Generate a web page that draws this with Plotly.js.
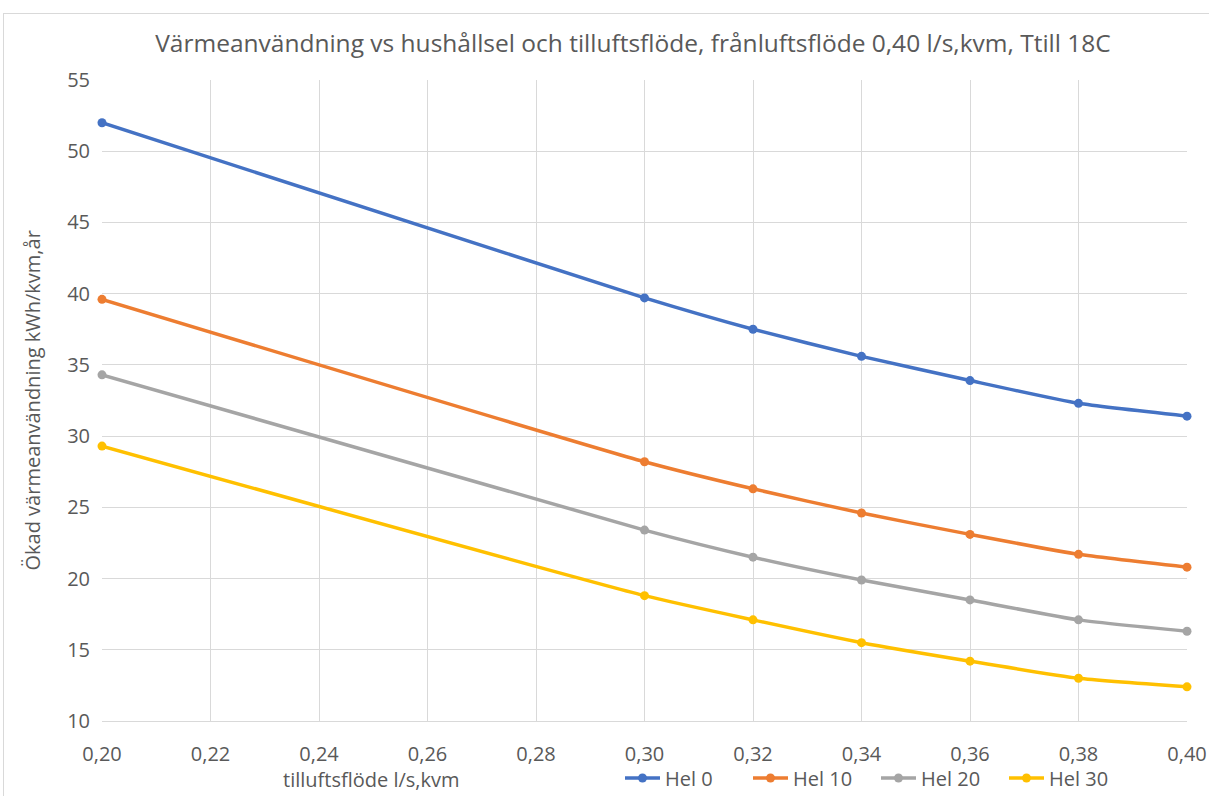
<!DOCTYPE html>
<html>
<head>
<meta charset="utf-8">
<script src="https://cdn.plot.ly/plotly-3.0.1.min.js"></script>
<style>
  html, body { margin: 0; padding: 0; background: #ffffff; overflow: hidden; }
  #frame { position: absolute; left: 3px; top: 13px; width: 1220px; height: 800px;
           border: 1px solid #d9d9d9; box-sizing: border-box; }
  #chart { position: absolute; left: 0; top: 0; width: 1209px; height: 796px; }
</style>
</head>
<body>
<div id="frame"></div>
<div id="chart"></div>
<script>
// Supply air flow (l/s per m²)
const flow = [0.20, 0.30, 0.32, 0.34, 0.36, 0.38, 0.40];

// Increased heating demand (kWh/m²·year) per household electricity level
const hel0  = [52.0, 39.7, 37.5, 35.6, 33.9, 32.3, 31.4];
const hel10 = [39.6, 28.2, 26.3, 24.6, 23.1, 21.7, 20.8];
const hel20 = [34.3, 23.4, 21.5, 19.9, 18.5, 17.1, 16.3];
const hel30 = [29.3, 18.8, 17.1, 15.5, 14.2, 13.0, 12.4];

const seriesNames = ['Hel 0', 'Hel 10', 'Hel 20', 'Hel 30'];
const seriesColors = ['#4472C4', '#ED7D31', '#A5A5A5', '#FFC000'];
const seriesValues = [hel0, hel10, hel20, hel30];

const tickVals = [0.20, 0.22, 0.24, 0.26, 0.28, 0.30, 0.32, 0.34, 0.36, 0.38, 0.40];
const tickText = ['0,20', '0,22', '0,24', '0,26', '0,28', '0,30', '0,32', '0,34', '0,36', '0,38', '0,40'];

const FONT = "'Open Sans', 'Noto Sans', sans-serif";
const TXT = '#595959';

const traces = seriesValues.map((vals, i) => ({
  x: flow,
  y: vals,
  name: seriesNames[i],
  type: 'scatter',
  mode: 'lines+markers',
  cliponaxis: false,
  line: { color: seriesColors[i], width: 3.5, shape: 'spline', smoothing: 0.5 },
  marker: { color: seriesColors[i], size: 9 }
}));

const layout = {
  width: 1209,
  height: 796,
  paper_bgcolor: 'rgba(0,0,0,0)',
  plot_bgcolor: '#ffffff',
  margin: { l: 102, r: 22, t: 80, b: 75 },
  font: { family: FONT, color: TXT, size: 20 },
  title: {
    text: 'Värmeanvändning vs hushållsel och tilluftsflöde, frånluftsflöde 0,40 l/s,kvm, Ttill 18C',
    font: { family: FONT, size: 24.5, color: TXT },
    xref: 'container', yref: 'container',
    x: 633 / 1209, xanchor: 'center',
    y: 1 - 43 / 796, yanchor: 'middle'
  },
  xaxis: {
    range: [0.20, 0.40],
    tickvals: tickVals,
    ticktext: tickText,
    showgrid: true,
    gridcolor: '#d9d9d9',
    gridwidth: 1,
    zeroline: false,
    showline: true,
    linecolor: '#d9d9d9',
    ticks: '',
    ticklabelstandoff: 15,
    tickfont: { family: FONT, size: 20, color: TXT },
    fixedrange: true
  },
  yaxis: {
    range: [10, 55],
    dtick: 5,
    tick0: 10,
    showgrid: true,
    gridcolor: '#d9d9d9',
    gridwidth: 1,
    zeroline: false,
    showline: false,
    ticks: '',
    ticklabelstandoff: 11,
    tickfont: { family: FONT, size: 20, color: TXT },
    fixedrange: true
  },
  showlegend: true,
  legend: {
    orientation: 'h',
    x: 620 / 1209, xref: 'container', xanchor: 'left',
    y: 1 - 778 / 796, yref: 'container', yanchor: 'middle',
    font: { family: FONT, size: 20, color: TXT },
    itemwidth: 35,
    entrywidth: 78,
    bgcolor: 'rgba(0,0,0,0)'
  },
  annotations: [
    {
      text: 'tilluftsflöde l/s,kvm',
      xref: 'paper', yref: 'paper',
      x: (371 - 102) / 1085, y: -(779 - 721) / 641,
      xanchor: 'center', yanchor: 'middle',
      showarrow: false,
      font: { family: FONT, size: 20, color: TXT }
    },
    {
      text: 'Ökad värmeanvändning kWh/kvm,år',
      xref: 'paper', yref: 'paper',
      x: -(102 - 32) / 1085, y: 0.5,
      xanchor: 'center', yanchor: 'middle',
      textangle: -90,
      showarrow: false,
      font: { family: FONT, size: 20, color: TXT }
    }
  ]
};

Plotly.newPlot('chart', traces, layout, { displayModeBar: false, staticPlot: true });
</script>
</body>
</html>
